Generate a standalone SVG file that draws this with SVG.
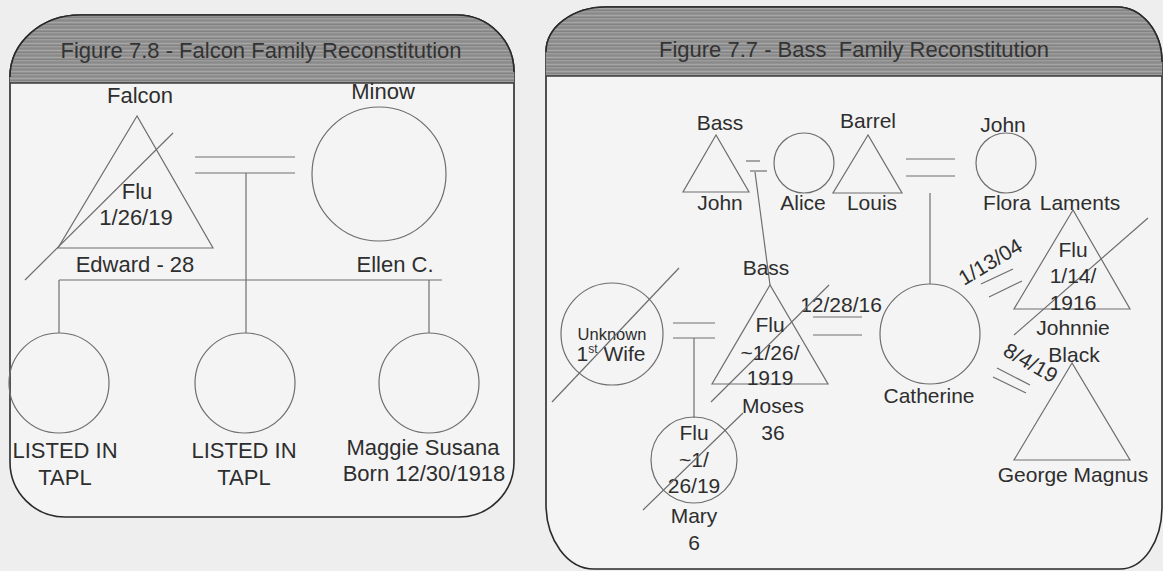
<svg xmlns="http://www.w3.org/2000/svg" width="1163" height="571" viewBox="0 0 1163 571">
<style>
.t{font-family:"Liberation Sans",Arial,sans-serif;font-size:22px;fill:#2e2e2e;text-anchor:middle}
.r{font-size:21px}
.s{font-family:"Liberation Sans",Arial,sans-serif;fill:none;stroke:#6e6e6e;stroke-width:1.2}
.c{fill:none;stroke:#6e6e6e;stroke-width:1.2}
.panel{fill:#f4f4f4;stroke:#2a2a2a;stroke-width:1.6}
.hdr{fill:url(#stripes)}
.hline{stroke:#3a3a3a;stroke-width:1.4}
.ht{font-family:"Liberation Sans",Arial,sans-serif;font-size:22px;fill:#333;text-anchor:middle}
</style>
<defs>
<pattern id="stripes" width="10" height="7" patternUnits="userSpaceOnUse">
<rect width="10" height="7" fill="#919191"/>
<rect y="1" width="10" height="1" fill="#a6a6a6"/>
<rect y="3" width="10" height="1" fill="#828282"/>
<rect y="4" width="10" height="1" fill="#9d9d9d"/>
<rect y="6" width="10" height="1" fill="#8a8a8a"/>
</pattern>
<clipPath id="clipL"><path d="M10,77 A70,62 0 0 1 80,15 L457,15 A57,57 0 0 1 514,72 L514,462 A55,55 0 0 1 459,517 L65,517 A55,55 0 0 1 10,462 Z"/></clipPath>
<clipPath id="clipR"><path d="M546,52 A60,45 0 0 1 606,7 L1117,7 A45,55 0 0 1 1162,62 L1162,507 A42,62 0 0 1 1120,569 L594,569 A48,65 0 0 1 546,504 Z"/></clipPath>
</defs>
<rect width="1163" height="571" fill="#eeeeee"/>

<g id="panel-left">
<path class="panel" d="M10,77 A70,62 0 0 1 80,15 L457,15 A57,57 0 0 1 514,72 L514,462 A55,55 0 0 1 459,517 L65,517 A55,55 0 0 1 10,462 Z"/>
<rect class="hdr" x="0" y="15" width="520" height="68" clip-path="url(#clipL)"/>
<path d="M10,77 A70,62 0 0 1 80,15 L457,15 A57,57 0 0 1 514,72" fill="none" stroke="#2a2a2a" stroke-width="1.6"/>
<line class="hline" x1="10" y1="83" x2="514" y2="83"/>
<text class="ht" x="261" y="58">Figure 7.8 - Falcon Family Reconstitution</text>
</g>

<g id="panel-right">
<path class="panel" d="M546,52 A60,45 0 0 1 606,7 L1117,7 A45,55 0 0 1 1162,62 L1162,507 A42,62 0 0 1 1120,569 L594,569 A48,65 0 0 1 546,504 Z"/>
<rect class="hdr" x="540" y="7" width="630" height="69" clip-path="url(#clipR)"/>
<path d="M546,52 A60,45 0 0 1 606,7 L1117,7 A45,55 0 0 1 1162,62" fill="none" stroke="#2a2a2a" stroke-width="1.6"/>
<line class="hline" x1="546" y1="76" x2="1162" y2="76"/>
<text class="ht" x="854" y="57" xml:space="preserve">Figure 7.7 - Bass  Family Reconstitution</text>
</g>

<g id="connectors">
<!-- left panel -->
<line class="c" x1="195" y1="157" x2="295" y2="157"/>
<line class="c" x1="195" y1="173" x2="295" y2="173"/>
<line class="c" x1="246" y1="173" x2="246" y2="333"/>
<line class="c" x1="59" y1="280" x2="442" y2="280"/>
<line class="c" x1="59" y1="280" x2="59" y2="333"/>
<line class="c" x1="429" y1="280" x2="429" y2="333"/>
<!-- right panel -->
<line class="c" x1="746" y1="161" x2="760" y2="161"/>
<line class="c" x1="750" y1="171" x2="767" y2="171"/>
<line class="c" x1="755" y1="172" x2="770" y2="285"/>
<line class="c" x1="906" y1="159" x2="955" y2="159"/>
<line class="c" x1="906" y1="176" x2="955" y2="176"/>
<line class="c" x1="930" y1="193" x2="930" y2="284"/>
<line class="c" x1="673" y1="323" x2="715" y2="323"/>
<line class="c" x1="673" y1="338" x2="715" y2="338"/>
<line class="c" x1="694" y1="338" x2="694" y2="418"/>
<line class="c" x1="813" y1="317" x2="862" y2="317"/>
<line class="c" x1="813" y1="335" x2="862" y2="335"/>
<text class="t r" x="841" y="312">12/28/16</text>
<line class="c" x1="981" y1="284" x2="1013" y2="269"/>
<line class="c" x1="989" y1="297" x2="1022" y2="281"/>
<text class="t r" transform="translate(994,268) rotate(-31)">1/13/04</text>
<line class="c" x1="997" y1="368" x2="1030" y2="385"/>
<line class="c" x1="993" y1="377" x2="1026" y2="393"/>
<text class="t r" transform="translate(1027,369) rotate(30)">8/4/19</text>
</g>

<g id="falcon-edward">
<text class="t" x="140" y="103">Falcon</text>
<polygon class="c" points="137,116 58,248 213,248"/>
<line class="c" x1="173" y1="133" x2="25" y2="280"/>
<text class="t" x="137" y="199">Flu</text>
<text class="t" x="136" y="225">1/26/19</text>
<text class="t" x="135" y="272">Edward - 28</text>
</g>
<g id="minow-ellen">
<text class="t" x="383" y="99">Minow</text>
<circle class="c" cx="379" cy="174" r="67"/>
<text class="t" x="395" y="272">Ellen C.</text>
</g>
<g id="child-1">
<circle class="c" cx="59" cy="383" r="50"/>
<text class="t" x="65" y="458">LISTED IN</text>
<text class="t" x="65" y="485">TAPL</text>
</g>
<g id="child-2">
<circle class="c" cx="245" cy="383" r="50"/>
<text class="t" x="244" y="458">LISTED IN</text>
<text class="t" x="244" y="485">TAPL</text>
</g>
<g id="child-maggie">
<circle class="c" cx="429" cy="383" r="50"/>
<text class="t" x="423" y="455">Maggie Susana</text>
<text class="t" x="424" y="481">Born 12/30/1918</text>
</g>

<g id="john-bass">
<text class="t r" x="720" y="130">Bass</text>
<polygon class="c" points="716,135 683,192 749,192"/>
<text class="t r" x="720" y="210">John</text>
</g>
<g id="alice">
<circle class="c" cx="804" cy="163" r="30"/>
<text class="t r" x="803" y="210">Alice</text>
</g>
<g id="louis-barrel">
<text class="t r" x="868" y="128">Barrel</text>
<polygon class="c" points="868,135 833,193 902,193"/>
<text class="t r" x="872" y="210">Louis</text>
</g>
<g id="flora-john">
<text class="t r" x="1003" y="132">John</text>
<circle class="c" cx="1006" cy="163" r="30"/>
<text class="t r" x="1007" y="210">Flora</text>
</g>
<g id="johnnie-black">
<text class="t r" x="1080" y="210">Laments</text>
<polygon class="c" points="1073,210 1014,309 1130,309"/>
<line class="c" x1="1148" y1="218" x2="1014" y2="335"/>
<text class="t r" x="1073" y="257">Flu</text>
<text class="t r" x="1073" y="283">1/14/</text>
<text class="t r" x="1073" y="310">1916</text>
<text class="t r" x="1073" y="335">Johnnie</text>
<text class="t r" x="1074" y="362">Black</text>
</g>
<g id="catherine">
<circle class="c" cx="930" cy="334" r="50"/>
<text class="t r" x="929" y="403">Catherine</text>
</g>
<g id="george-magnus">
<polygon class="c" points="1072,363 1014,460 1130,460"/>
<text class="t r" x="1073" y="482">George Magnus</text>
</g>
<g id="moses-bass">
<text class="t r" x="766" y="275">Bass</text>
<polygon class="c" points="770,285 712,384 828,384"/>
<line class="c" x1="829" y1="285" x2="711" y2="402"/>
<text class="t r" x="770" y="332">Flu</text>
<text class="t r" x="770" y="360">~1/26/</text>
<text class="t r" x="770" y="385">1919</text>
<text class="t r" x="773" y="413">Moses</text>
<text class="t r" x="773" y="440">36</text>
</g>
<g id="unknown-wife">
<circle class="c" cx="612" cy="334" r="51"/>
<text class="t" x="612" y="340" style="font-size:16.5px">Unknown</text>
<text class="t r" x="611" y="361">1<tspan font-size="12" dy="-8">st</tspan><tspan dy="8"> Wife</tspan></text>
<line class="c" x1="679" y1="268" x2="552" y2="402"/>
</g>
<g id="mary">
<circle class="c" cx="694" cy="460" r="43"/>
<text class="t r" x="694" y="440">Flu</text>
<text class="t r" x="694" y="467">~1/</text>
<text class="t r" x="694" y="493">26/19</text>
<line class="c" x1="743" y1="413" x2="643" y2="510"/>
<text class="t r" x="694" y="523">Mary</text>
<text class="t r" x="694" y="550">6</text>
</g>
</svg>
